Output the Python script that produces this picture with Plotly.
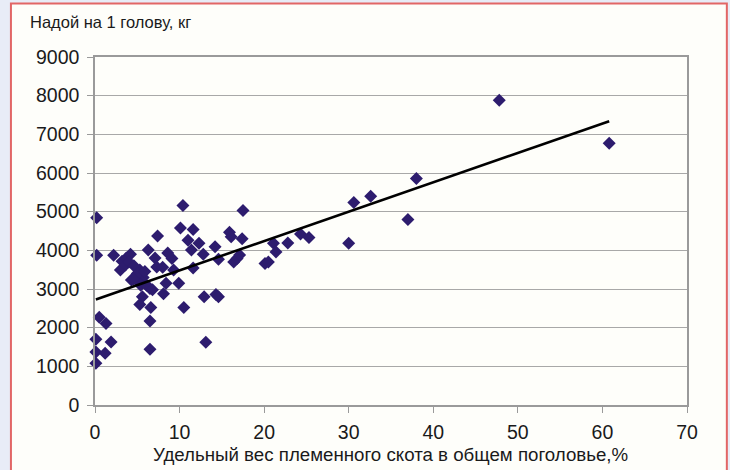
import plotly.graph_objects as go

# Share of pedigree cattle in total herd, %
share_pct = [
    0.2, 0.2, 0.5, 1.3, 0.1, 1.9, 0.1, 1.2, 0.1,
    2.2, 3.2, 3.7, 4.2, 3.0, 3.6, 4.0, 4.9, 5.3, 5.7, 4.3, 5.1, 5.4, 6.1,
    6.3, 7.1, 7.4, 7.3, 8.0, 8.6, 9.1, 8.4, 9.9, 9.3, 6.5, 6.8, 8.1, 5.6,
    5.3, 6.6, 6.5, 6.5, 4.6, 5.0, 5.9, 4.5,
    10.4, 17.5, 10.1, 11.6, 11.0, 12.3, 11.4, 12.8, 14.2, 14.6, 11.6, 10.5,
    12.9, 14.3, 14.6, 13.1, 15.9, 16.1, 17.4, 16.4, 16.8, 17.1,
    20.1, 20.5, 21.1, 21.4, 22.8, 24.3, 25.3, 30.0, 30.6, 32.6, 37.0, 38.0,
    47.8, 60.8,
]
# Milk yield per head, kg
milk_yield = [
    4840, 3870, 2270, 2110, 1700, 1630, 1370, 1340, 1080,
    3870, 3720, 3800, 3900, 3490, 3620, 3700, 3350, 3490, 3300, 3230, 3190, 3100, 3100,
    4010, 3800, 4370, 3570, 3560, 3930, 3790, 3150, 3150, 3490, 3010, 2980, 2880, 2800,
    2600, 2520, 2170, 1440, 3600, 3400, 3450, 3250,
    5160, 5030, 4580, 4540, 4260, 4180, 4010, 3900, 4090, 3770, 3540, 2520,
    2800, 2860, 2800, 1620, 4470, 4350, 4300, 3700, 3790, 3880,
    3660, 3700, 4180, 3960, 4190, 4420, 4330, 4180, 5240, 5400, 4800, 5860,
    7880, 6770,
]
# Linear trend line end points
trend_x = [0.1, 60.8]
trend_y = [2730, 7340]

x_ticks = [0, 10, 20, 30, 40, 50, 60, 70]
y_ticks = [0, 1000, 2000, 3000, 4000, 5000, 6000, 7000, 8000, 9000]

FONT = "Arial, 'Liberation Sans', sans-serif"
INNER = "#fefefa"
OUTER = "#e8ecf7"

fig = go.Figure()
fig.add_trace(go.Scatter(
    x=share_pct, y=milk_yield, mode="markers",
    marker=dict(symbol="diamond", size=10, color="#2d1c6e"),
    cliponaxis=False,
    showlegend=False,
))
fig.add_trace(go.Scatter(
    x=trend_x, y=trend_y, mode="lines",
    line=dict(color="#000000", width=2.6),
    showlegend=False,
))

# plot area: left 95, width 591.7, bottom 405, height 348.3
fig.add_shape(type="rect", xref="paper", yref="paper",
              x0=-0.142, x1=1.0673, y0=-0.21, y1=1.154,
              line=dict(color="#e26666", width=2), fillcolor=INNER, layer="below")

fig.add_annotation(text="Надой на 1 голову, кг", xref="paper", yref="paper",
                   x=-0.1132, y=1.0996, xanchor="left", yanchor="middle",
                   showarrow=False, font=dict(family=FONT, size=16.5, color="#1a1a1a"))
fig.add_annotation(text="Удельный вес племенного скота в общем поголовье,%",
                   xref="paper", yref="paper", x=0.4986, y=-0.1436,
                   xanchor="center", yanchor="middle", showarrow=False,
                   font=dict(family=FONT, size=18.7, color="#1a1a1a"))

fig.update_layout(
    width=730, height=470,
    margin=dict(l=95, r=43.3, t=56.7, b=65, pad=0),
    paper_bgcolor=OUTER, plot_bgcolor=INNER,
    font=dict(family=FONT, size=19.5, color="#1a1a1a"),
    xaxis=dict(range=[0, 70], tickvals=x_ticks, showgrid=False, zeroline=False,
               showline=True, linecolor="#9a9a9a", linewidth=1.5, mirror=True,
               ticks="outside", ticklen=6, tickcolor="#9a9a9a", ticklabelstandoff=3),
    yaxis=dict(range=[0, 9000], tickvals=y_ticks, showgrid=True, gridcolor="#a8a8a8",
               gridwidth=1.3, zeroline=False, showline=True, linecolor="#9a9a9a",
               linewidth=1.5, mirror=True, ticks="outside", ticklen=6,
               tickcolor="#9a9a9a", ticklabelstandoff=4),
)

fig.write_html(
    "out.html",
    config={"displayModeBar": False},
    post_script="document.body.style.margin='0';document.body.style.background='" + OUTER + "';",
)
